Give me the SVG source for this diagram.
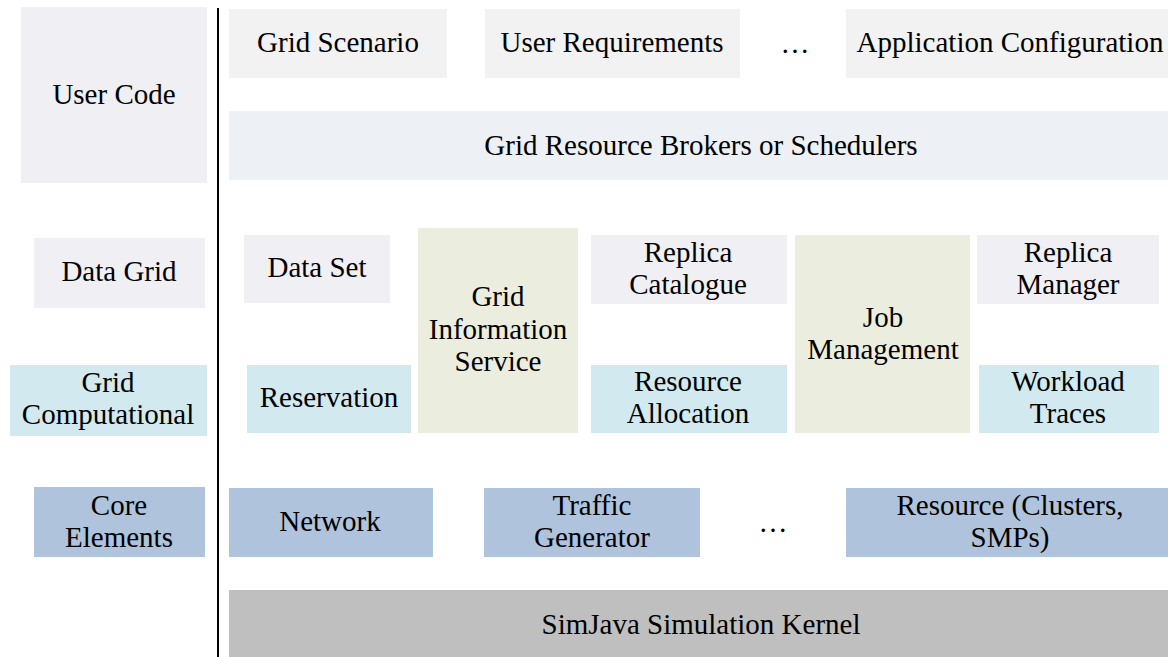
<svg xmlns="http://www.w3.org/2000/svg" width="1168" height="657" viewBox="0 0 1168 657">
<style>
text{font-family:"Liberation Serif","Times New Roman",serif;font-size:29px;fill:#000;text-anchor:middle}
.uc{fill:#F0EFF4}
.gs{fill:#F2F2F2}
.br{fill:#EDF0F5}
.gi{fill:#EBEEDF}
.gc{fill:#D2EAEF}
.ce{fill:#AFC3DC}
.sk{fill:#BFBFBF}
</style>
<rect width="1168" height="657" fill="#fff"/>
<g id="connectors">
<line x1="218" y1="8" x2="218" y2="657" stroke="#000" stroke-width="2"/>
</g>
<g id="user-code"><rect class="uc" x="21" y="7" width="186" height="176"/><text x="114" y="104">User Code</text></g>
<g id="grid-scenario"><rect class="gs" x="229" y="9" width="218" height="69"/><text x="338" y="52">Grid Scenario</text></g>
<g id="user-requirements"><rect class="gs" x="485" y="9" width="255" height="69"/><text x="612" y="52">User Requirements</text></g>
<g id="ellipsis-top"><text x="795" y="53">…</text></g>
<g id="application-configuration"><rect class="gs" x="846" y="9" width="322" height="69"/><text x="1010" y="52">Application Configuration</text></g>
<g id="brokers"><rect class="br" x="229" y="111" width="939" height="69"/><text x="701" y="155">Grid Resource Brokers or Schedulers</text></g>
<g id="data-grid"><rect class="uc" x="34" y="238" width="171" height="70"/><text x="119" y="281">Data Grid</text></g>
<g id="data-set"><rect class="uc" x="244" y="235" width="146" height="68"/><text x="317" y="277">Data Set</text></g>
<g id="gis"><rect class="gi" x="418" y="228" width="160" height="205"/><text x="498" y="306">Grid</text><text x="498" y="339">Information</text><text x="498" y="371">Service</text></g>
<g id="replica-catalogue"><rect class="uc" x="591" y="235" width="196" height="69"/><text x="688" y="262">Replica</text><text x="688" y="294">Catalogue</text></g>
<g id="job-management"><rect class="gi" x="795" y="235" width="175" height="198"/><text x="883" y="327">Job</text><text x="883" y="359">Management</text></g>
<g id="replica-manager"><rect class="uc" x="977" y="235" width="182" height="69"/><text x="1068" y="262">Replica</text><text x="1068" y="294">Manager</text></g>
<g id="grid-computational"><rect class="gc" x="10" y="365" width="197" height="71"/><text x="108" y="392">Grid</text><text x="108" y="424">Computational</text></g>
<g id="reservation"><rect class="gc" x="247" y="365" width="164" height="68"/><text x="329" y="407">Reservation</text></g>
<g id="resource-allocation"><rect class="gc" x="591" y="365" width="196" height="68"/><text x="688" y="391">Resource</text><text x="688" y="423">Allocation</text></g>
<g id="workload-traces"><rect class="gc" x="979" y="365" width="180" height="68"/><text x="1068" y="391">Workload</text><text x="1068" y="423">Traces</text></g>
<g id="core-elements"><rect class="ce" x="34" y="487" width="171" height="70"/><text x="119" y="515">Core</text><text x="119" y="547">Elements</text></g>
<g id="network"><rect class="ce" x="229" y="488" width="204" height="69"/><text x="330" y="531">Network</text></g>
<g id="traffic-generator"><rect class="ce" x="484" y="488" width="216" height="69"/><text x="592" y="515">Traffic</text><text x="592" y="547">Generator</text></g>
<g id="ellipsis-bottom"><text x="773" y="532">…</text></g>
<g id="resource-clusters"><rect class="ce" x="846" y="488" width="322" height="69"/><text x="1010" y="515">Resource (Clusters,</text><text x="1010" y="547">SMPs)</text></g>
<g id="simjava"><rect class="sk" x="229" y="590" width="939" height="67"/><text x="701" y="634">SimJava Simulation Kernel</text></g>
</svg>
